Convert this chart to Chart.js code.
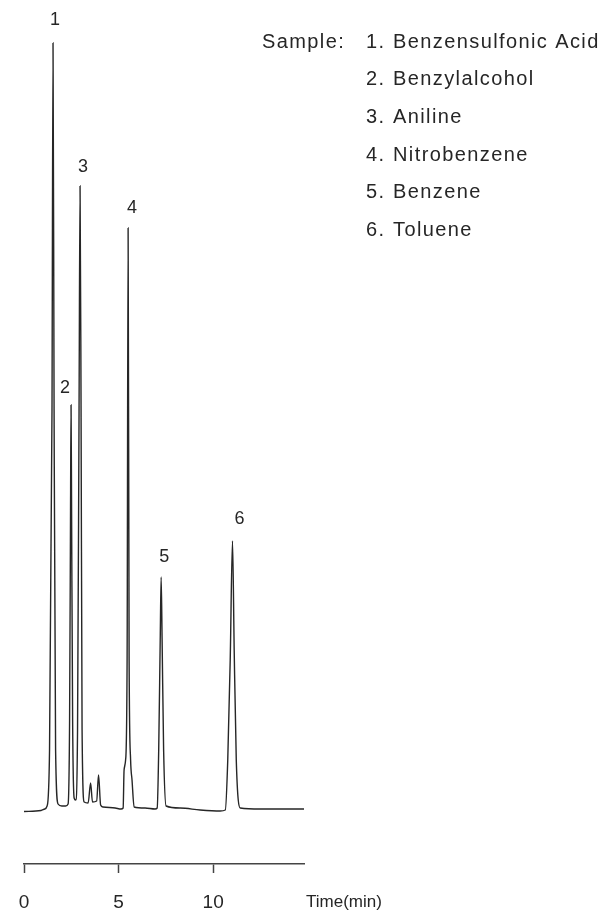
<!DOCTYPE html>
<html>
<head>
<meta charset="utf-8">
<title>Chromatogram</title>
<script src="https://cdn.jsdelivr.net/npm/chart.js@4.4.1/dist/chart.umd.min.js"></script>
<style>
  html, body { margin: 0; padding: 0; background: #fff; }
  #chrom { display: block; }
</style>
</head>
<body>
<canvas id="chrom" width="605" height="915"></canvas>
<script>
// ---- data (time in min, response in arbitrary units, baseline = 0) ----
const timeMin = [
  0, 0.90, 1.10, 1.22, 1.35, 1.48, 1.534, 1.59, 1.67, 1.80,
  2.00, 2.20, 2.33, 2.41, 2.46, 2.487, 2.515, 2.57, 2.65, 2.73,
  2.83, 2.91, 2.963, 3.016, 3.07, 3.18, 3.39, 3.52, 3.62, 3.84,
  3.94, 4.05, 4.18, 4.82, 5.13, 5.24, 5.29, 5.37, 5.45, 5.503,
  5.556, 5.635, 5.71, 5.82, 6.40, 6.93, 7.04, 7.12, 7.20, 7.249,
  7.30, 7.38, 7.51, 8.25, 9.31, 10.37, 10.64, 10.77, 10.90, 11.021,
  11.11, 11.22, 11.43, 12.49, 14.80
];
const response = [
  -1.5, -0.5, 1, 4, 60, 400, 767, 400, 60, 6,
  4, 4, 6, 90, 300, 405, 300, 90, 12, 10,
  80, 400, 624, 400, 80, 8, 7, 27, 8, 9,
  35, 5, 3, 2, 1, 2, 40, 50, 150, 582,
  150, 50, 30, 3, 2, 1, 2, 60, 170, 233,
  170, 60, 4, 2, 0, -1, 0, 50, 150, 269,
  160, 50, 2, 1, 1
];

// numbered peaks
const peakNo   = ['1', '2', '3', '4', '5', '6'];
const peakTime = [1.534, 2.487, 2.963, 5.503, 7.249, 11.021];
const peakTop  = [767, 405, 624, 582, 233, 269];

const compounds = [
  'Benzensulfonic Acid',
  'Benzylalcohol',
  'Aniline',
  'Nitrobenzene',
  'Benzene',
  'Toluene'
];

const xTicks = [0, 5, 10];
const xTitle = 'Time(min)';
const sampleTitle = 'Sample:';

const INK = '#262626';

// ---- texte dessiné à la main (étiquettes de pics, légende, titre d'axe) ----
const annotations = {
  id: 'annotations',
  afterDraw(chart, args, opts) {
    const { ctx, scales: { x, y } } = chart;
    ctx.save();
    ctx.fillStyle = INK;

    // numéros au-dessus des pics
    ctx.font = '18px "Liberation Sans", Arial, sans-serif';
    ctx.textAlign = 'center';
    ctx.textBaseline = 'middle';
    peakNo.forEach((n, i) => {
      const px = x.getPixelForValue(peakTime[i]) + opts.labelDx[i];
      const py = y.getPixelForValue(peakTop[i]) - opts.labelLift[i];
      ctx.fillText(n, px, py);
    });

    // légende "Sample:"
    ctx.font = '20px "Liberation Sans", Arial, sans-serif';
    ctx.letterSpacing = '1.4px';
    ctx.textAlign = 'left';
    ctx.fillText(sampleTitle, 262, 42);
    compounds.forEach((name, i) => {
      const ly = 42 + i * 37.7;
      ctx.fillText((i + 1) + '.', 366, ly);
      ctx.fillText(name, 393, ly);
    });

    // titre de l'axe du temps
    ctx.font = '17px "Liberation Sans", Arial, sans-serif';
    ctx.letterSpacing = '0px';
    ctx.fillText(xTitle, 306, 902);
    ctx.restore();
  }
};

new Chart(document.getElementById('chrom'), {
  type: 'line',
  data: {
    datasets: [{
      data: timeMin.map((t, i) => ({ x: t, y: response[i] })),
      borderColor: INK,
      borderWidth: 1.4,
      pointRadius: 0,
      fill: false,
      cubicInterpolationMode: 'monotone'
    }]
  },
  options: {
    responsive: false,
    animation: false,
    layout: { padding: { left: 24, right: 301, top: 10, bottom: 0 } },
    plugins: {
      legend: { display: false },
      tooltip: { enabled: false },
      annotations: {
        labelDx:   [2, -6, 3, 4, 3, 7],
        labelLift: [23, 17, 19, 20, 20, 22]
      }
    },
    scales: {
      x: {
        type: 'linear',
        min: 0,
        max: 14.8,
        afterFit: (s) => { s.height = 51; },
        afterBuildTicks: (s) => { s.ticks = xTicks.map(v => ({ value: v })); },
        border: { display: true, color: '#444', width: 1.5 },
        grid: { drawOnChartArea: false, drawTicks: true, tickLength: 9, tickWidth: 1.5, tickColor: '#444' },
        ticks: {
          color: INK,
          padding: 18,
          font: { family: '"Liberation Sans", Arial, sans-serif', size: 19 },
          callback: (v) => String(v)
        }
      },
      y: {
        display: false,
        min: -54,
        max: 800
      }
    }
  },
  plugins: [annotations]
});
</script>
</body>
</html>
